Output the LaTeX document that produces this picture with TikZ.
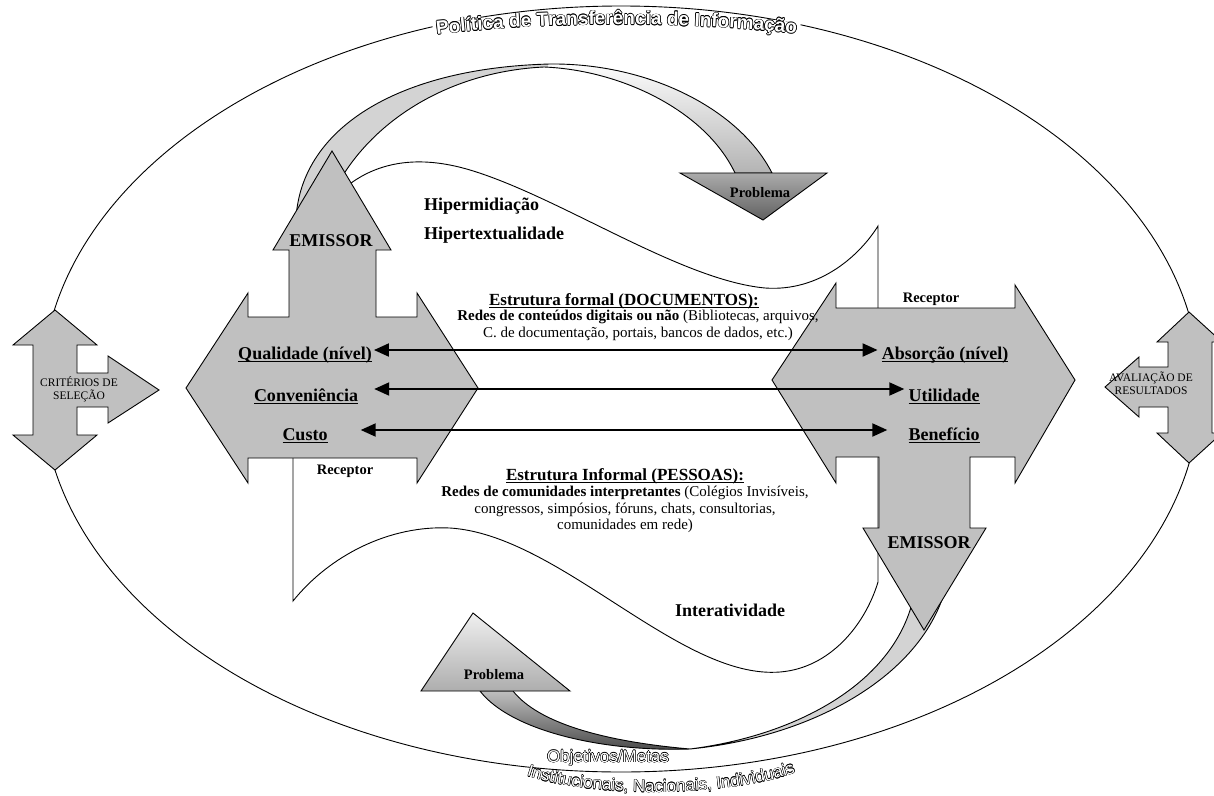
\documentclass[tikz,border=0pt]{standalone}
\usepackage{fontspec}
\setmainfont{Liberation Serif}
\newfontfamily\arialf{Liberation Sans}
\usetikzlibrary{arrows.meta,decorations.text}
\definecolor{shapegray}{RGB}{192,192,192}
\definecolor{bandgray}{RGB}{211,211,211}
\newcommand\ulx[1]{\setbox0\hbox{#1}\rlap{\rule[-2.8pt]{\wd0}{1.3pt}}\box0}
\newcommand\outl[1]{\leavevmode\rlap{\kern0.45pt#1}\rlap{\kern-0.45pt#1}\rlap{\raisebox{0.45pt}{#1}}\rlap{\raisebox{-0.45pt}{#1}}\rlap{\kern0.32pt\raisebox{0.32pt}{#1}}\rlap{\kern-0.32pt\raisebox{0.32pt}{#1}}\rlap{\kern0.32pt\raisebox{-0.32pt}{#1}}\rlap{\kern-0.32pt\raisebox{-0.32pt}{#1}}{\color{white}#1}}
\newcommand\arcfontA{\arialf\bfseries\fontsize{19}{21}\selectfont}
\newcommand\arcfontB{\arialf\fontsize{17}{19}\selectfont}
\begin{document}
\begin{tikzpicture}[x=1pt,y=1pt,
 shp/.style={draw=black, line width=0.9pt, fill=shapegray},
 lbl/.style={inner sep=0pt, font=\fontsize{18}{21}\selectfont\bfseries},
 smallb/.style={inner sep=0pt, font=\fontsize{14.5}{17}\selectfont\bfseries},
 crit/.style={inner sep=0pt, align=center, font=\fontsize{11.5}{13}\selectfont},
 head/.style={inner sep=0pt, font=\fontsize{17}{19}\selectfont\bfseries},
 sub/.style={inner sep=0pt, align=center, font=\fontsize{15}{16.5}\selectfont},
 wave/.style={draw=black, line width=0.9pt},
 dbl/.style={{Triangle[length=15pt,width=13pt]}-{Triangle[length=15pt,width=13pt]}, line width=2pt},
]
\useasboundingbox (0,0) rectangle (1214,-795);
\clip (0,0) rectangle (1214,-795);

% outer ellipse
\draw[line width=0.9pt] (621,-389) ellipse [x radius=579, y radius=383];
\draw[white, line width=12pt] (433,-30) .. controls (540,-15) and (690,-15) .. (800,-29);

% top arc text (outlined)
\foreach \dx/\dy in {0.65/0,-0.65/0,0/0.65,0/-0.65,0.46/0.46,0.46/-0.46,-0.46/0.46,-0.46/-0.46}{
  \path[shift={(\dx,\dy)}, decorate, decoration={text along path, text={|\arcfontA|Política de Transferência de Informação}, text align=center, text color=black}] (425,-36) .. controls (540,-21) and (690,-21) .. (808,-35);
}
\path[decorate, decoration={text along path, text={|\arcfontA|Política de Transferência de Informação}, text align=center, text color=white}] (425,-36) .. controls (540,-21) and (690,-21) .. (808,-35);

% bottom texts (outlined)
\node[inner sep=0pt, font=\arcfontB] (obj) at (608,-758) {\outl{Objetivos/Metas}};
\foreach \dx/\dy in {0.45/0,-0.45/0,0/0.45,0/-0.45,0.32/0.32,0.32/-0.32,-0.32/0.32,-0.32/-0.32}{
  \path[shift={(\dx,\dy)}, decorate, decoration={text along path, text={|\arcfontB|Institucionais, Nacionais, Individuais}, text align=center, text color=black}] (512,-770) .. controls (578,-800) and (735,-800) .. (810,-767);
}
\path[decorate, decoration={text along path, text={|\arcfontB|Institucionais, Nacionais, Individuais}, text align=center, text color=white}] (512,-770) .. controls (578,-800) and (735,-800) .. (810,-767);

% side shapes
\path[shp] (55,-310) -- (97,-345) -- (77,-345) -- (77,-373) -- (108,-373) -- (108,-356) -- (159,-390) -- (108,-423) -- (108,-407) -- (77,-407) -- (77,-435) -- (97,-435) -- (55,-470) -- (13,-435) -- (33,-435) -- (33,-345) -- (13,-345) -- cycle;
\node[crit] (crit) at (79,-389) {CRITÉRIOS DE\\SELEÇÃO};
\path[shp] (1105,-387) -- (1139,-357) -- (1139,-367) -- (1168,-367) -- (1168,-342) -- (1157,-342) -- (1189,-312) -- (1222,-342) -- (1212,-342) -- (1212,-433) -- (1222,-433) -- (1189,-463) -- (1157,-433) -- (1168,-433) -- (1168,-407) -- (1139,-407) -- (1139,-417) -- cycle;
\node[crit] (aval) at (1151,-383) {AVALIAÇÃO DE\\RESULTADOS};

% top curved band
\def\topband{(296,-235) .. controls (290,-135) and (390,-68) .. (550,-64) .. controls (650,-63) and (740,-110) .. (772,-173) -- (735,-173) .. controls (705,-110) and (620,-70) .. (544,-67) .. controls (440,-72) and (360,-130) .. (330,-200) -- cycle}
\fill[bandgray] \topband;
\begin{scope}
  \clip \topband;
  \shade[top color=white, bottom color=black!30] (548,-60) rectangle (800,-175);
\end{scope}
\draw[line width=0.9pt] \topband;
\path[draw, line width=0.9pt, top color=black!33, bottom color=black!62] (680,-173) -- (827,-173) -- (763,-220) -- cycle;
\node[smallb, anchor=base] (prob1) at (760,-197) {Problema};

% bottom curved band
\def\botback{(950,-560) .. controls (945,-660) and (830,-735) .. (690,-749) .. controls (800,-735) and (900,-680) .. (915,-590) -- cycle}
\def\botfront{(690,-749) .. controls (600,-752) and (510,-730) .. (480,-691) -- (513,-691) .. controls (540,-725) and (610,-742) .. (690,-749) -- cycle}
\path[fill=bandgray, draw, line width=0.9pt] \botback;
\path[draw, line width=0.9pt, top color=black!25, bottom color=black!72] \botfront;
\path[draw, line width=0.9pt, top color=black!6, bottom color=black!32] (421,-691) -- (473,-613) -- (570,-691) -- cycle;
\node[smallb, anchor=base] (prob2) at (494,-679) {Problema};

% waves
\draw[wave] (340,-192) .. controls (375,-160) and (420,-155) .. (470,-170) .. controls (560,-197) and (680,-280) .. (765,-288) .. controls (820,-292) and (860,-255) .. (878,-226) -- (878,-308);
\draw[wave] (293,-458) -- (293,-601) .. controls (330,-555) and (390,-525) .. (450,-528) .. controls (560,-535) and (680,-680) .. (780,-672) .. controls (830,-668) and (865,-625) .. (878,-582) -- (878,-457);

% main shapes
\path[shp] (186,-388) -- (248,-293) -- (248,-317) -- (289,-317) -- (289,-250) -- (273,-250) -- (332,-151) -- (391,-250) -- (376,-250) -- (376,-317) -- (417,-317) -- (417,-293) -- (478,-388) -- (417,-483) -- (417,-458) -- (248,-458) -- (248,-483) -- cycle;
\path[shp] (772,-380) -- (836,-283) -- (836,-308) -- (1015,-308) -- (1015,-285) -- (1075,-380) -- (1015,-483) -- (1015,-457) -- (970,-457) -- (970,-528) -- (986,-528) -- (924,-630) -- (863,-528) -- (879,-528) -- (879,-457) -- (836,-457) -- (836,-483) -- cycle;

% labels
\node[lbl, anchor=base] (emis1) at (331,-246) {EMISSOR};
\node[lbl, anchor=base] (emis2) at (929,-548) {EMISSOR};
\node[smallb, anchor=base] (rec1) at (345,-474) {Receptor};
\node[smallb, anchor=base] (rec2) at (931,-302) {Receptor};
\node[lbl, anchor=base west] (hip1) at (424,-210) {Hipermidiação};
\node[lbl, anchor=base west] (hip2) at (424,-239) {Hipertextualidade};
\node[lbl, anchor=base] (inter) at (730,-616) {Interatividade};

\node[lbl, anchor=base] (qual) at (305,-359) {\ulx{Qualidade (nível)}};
\node[lbl, anchor=base] (conv) at (306,-401) {\ulx{Conveniência}};
\node[lbl, anchor=base] (cust) at (305,-440) {\ulx{Custo}};
\node[lbl, anchor=base] (abso) at (945,-359) {\ulx{Absorção (nível)}};
\node[lbl, anchor=base] (util) at (944,-401) {\ulx{Utilidade}};
\node[lbl, anchor=base] (bene) at (944,-440) {\ulx{Benefício}};

\draw[dbl] ([xshift=2pt,yshift=9pt]qual.base east) -- ([xshift=-4pt,yshift=9pt]abso.base west);
\draw[dbl] ([xshift=16pt,yshift=12pt]conv.base east) -- ([xshift=-4pt,yshift=12pt]util.base west);
\draw[dbl] ([xshift=33pt,yshift=10pt]cust.base east) -- ([xshift=-21pt,yshift=10pt]bene.base west);

\node[head, anchor=base] (formal) at (624,-305) {\ulx{Estrutura formal (DOCUMENTOS):}};
\node[sub, anchor=north] (formalsub) at (638,-310) {\textbf{Redes de conteúdos digitais ou não} (Bibliotecas, arquivos,\\C. de documentação, portais, bancos de dados, etc.)};
\node[head, anchor=base] (informal) at (625,-480) {\ulx{Estrutura Informal (PESSOAS):}};
\node[sub, anchor=north] (informalsub) at (625,-486) {\textbf{Redes de comunidades interpretantes} (Colégios Invisíveis,\\congressos, simpósios, fóruns, chats, consultorias,\\comunidades em rede)};
\end{tikzpicture}
\end{document}
